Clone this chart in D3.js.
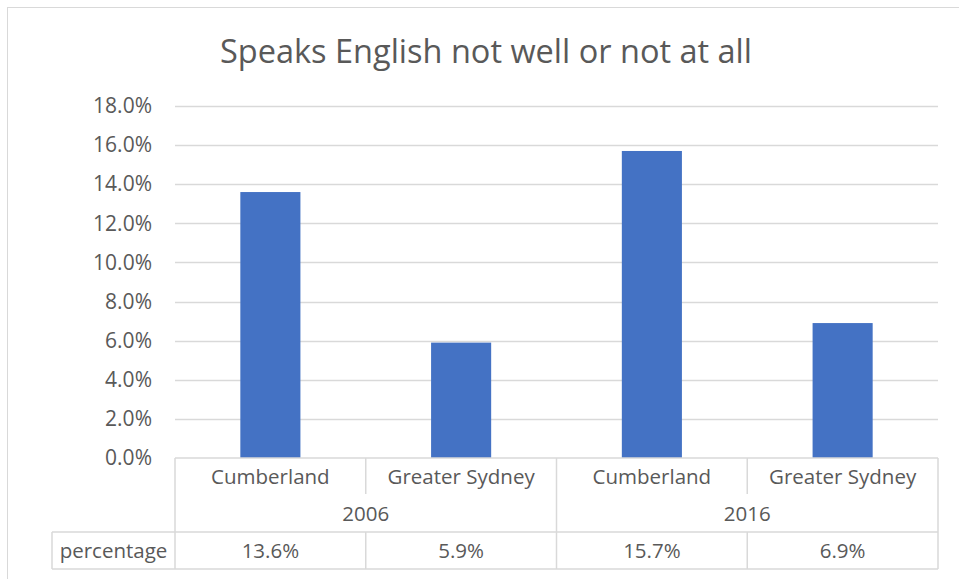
<!DOCTYPE html>
<html>
<head>
<meta charset="utf-8">
<script src="https://cdn.jsdelivr.net/npm/d3@7"></script>
<style>
  html, body { margin: 0; padding: 0; background: #fff; }
  svg { display: block; font-family: "Open Sans", "Noto Sans", sans-serif; }
</style>
</head>
<body>
<svg id="chart" width="959" height="579"></svg>
<script>
// Share of residents who speak English not well or not at all
const title = "Speaks English not well or not at all";
const areas = ["Cumberland", "Greater Sydney", "Cumberland", "Greater Sydney"];
const years = ["2006", "2016"];
const percentages = [13.6, 5.9, 15.7, 6.9];
const yTicks = [0, 2, 4, 6, 8, 10, 12, 14, 16, 18];
const seriesName = "percentage";

const svg = d3.select("#chart");
const textColor = "#595959";
const gridColor = "#d9d9d9";
const barColor = "#4472c4";
const labelSize = 20.5;

const plot = { left: 175, right: 938, top: 106, bottom: 458 };

// outer chart frame
svg.append("rect")
  .attr("x", 7.5).attr("y", 7.5)
  .attr("width", 970).attr("height", 600)
  .attr("fill", "none").attr("stroke", gridColor).attr("stroke-width", 1);

// title
svg.append("text")
  .attr("x", 486).attr("y", 63)
  .attr("text-anchor", "middle")
  .attr("fill", textColor)
  .attr("font-size", 32.5)
  .text(title);

const x = d3.scaleBand()
  .domain(d3.range(areas.length))
  .range([plot.left, plot.right])
  .padding(0);

const y = d3.scaleLinear()
  .domain([0, 18])
  .range([plot.bottom, plot.top]);

// horizontal gridlines
svg.append("g")
  .selectAll("line")
  .data(yTicks.filter(t => t > 0))
  .join("line")
  .attr("x1", plot.left).attr("x2", plot.right)
  .attr("y1", d => Math.round(y(d)) + 0.5)
  .attr("y2", d => Math.round(y(d)) + 0.5)
  .attr("stroke", gridColor).attr("stroke-width", 1.3);

// y-axis labels
const yAxis = d3.axisLeft(y)
  .tickValues(yTicks)
  .tickFormat(d => d.toFixed(1) + "%")
  .tickSize(0)
  .tickPadding(0);
const yAxisG = svg.append("g")
  .attr("transform", `translate(152,0)`)
  .call(yAxis);
yAxisG.select(".domain").remove();
yAxisG.selectAll("text")
  .attr("fill", textColor)
  .attr("font-size", 21)
  .attr("font-family", "\"Open Sans\", sans-serif");

// bars
const barFrac = 0.315;
svg.append("g")
  .selectAll("rect")
  .data(percentages)
  .join("rect")
  .attr("x", (d, i) => x(i) + x.bandwidth() * (1 - barFrac) / 2)
  .attr("width", x.bandwidth() * barFrac)
  .attr("y", d => y(d))
  .attr("height", d => y(0) - y(d))
  .attr("fill", barColor);

// data table below the plot
const table = svg.append("g");
const rowTop1 = plot.bottom, rowTop2 = 494, rowTop3 = 532, rowBottom = 569;
const tableLeft = 52;

const line = (x1, y1, x2, y2) => table.append("line")
  .attr("x1", x1).attr("y1", y1).attr("x2", x2).attr("y2", y2)
  .attr("stroke", gridColor).attr("stroke-width", 1.5);

// horizontal rules
line(plot.left, rowTop1, plot.right, rowTop1);
line(tableLeft, rowTop3, plot.right, rowTop3);
line(tableLeft, rowBottom, plot.right, rowBottom);
// vertical rules
line(tableLeft, rowTop3, tableLeft, rowBottom);
line(plot.left, rowTop1, plot.left, rowBottom);
line(plot.right, rowTop1, plot.right, rowBottom);
areas.forEach((a, i) => {
  if (i === 0) return;
  const xx = x(i);
  const groupEdge = i % 2 === 0;
  line(xx, rowTop1, xx, groupEdge ? rowBottom : rowTop2);
  if (!groupEdge) line(xx, rowTop3, xx, rowBottom);
});

const cellText = (tx, ty, str) => table.append("text")
  .attr("x", tx).attr("y", ty)
  .attr("text-anchor", "middle")
  .attr("dominant-baseline", "central")
  .attr("fill", textColor)
  .attr("font-size", labelSize)
  .text(str);

areas.forEach((a, i) => cellText(x(i) + x.bandwidth() / 2, 476, a));
years.forEach((yr, g) => cellText((x(g * 2) + x(g * 2 + 1) + x.bandwidth()) / 2, 513, yr));
percentages.forEach((v, i) => cellText(x(i) + x.bandwidth() / 2, 550, v.toFixed(1) + "%"));
cellText((tableLeft + plot.left) / 2, 550, seriesName);
</script>
</body>
</html>
